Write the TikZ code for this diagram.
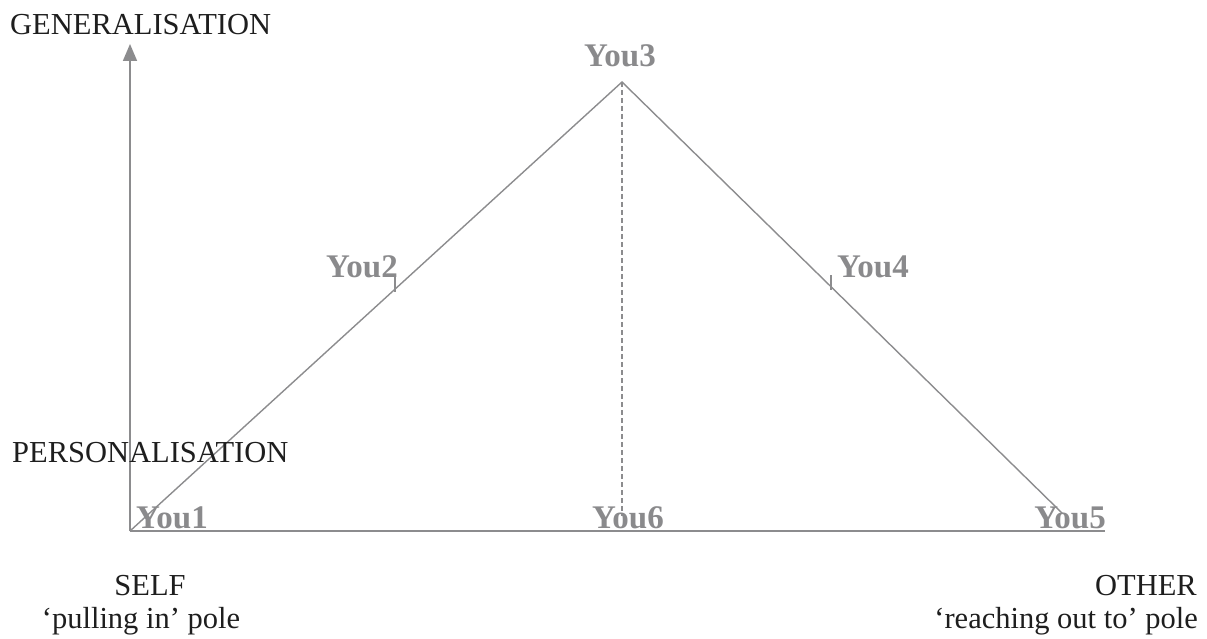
\documentclass[tikz,border=0pt]{standalone}
\usepackage{fontspec}
\setmainfont{Liberation Serif}
\usetikzlibrary{arrows.meta}
\definecolor{linegray}{HTML}{8C8C8E}
\definecolor{labgray}{HTML}{8A8A8C}
\definecolor{txt}{HTML}{1E1E1E}
\tikzset{
  axis/.style={draw=linegray, line width=1.6pt},
  leg/.style={draw=linegray, line width=1.4pt},
  dashline/.style={draw=linegray, line width=1.2pt, dash pattern=on 5pt off 3pt},
  tickmark/.style={draw=linegray, line width=1.2pt},
  youlab/.style={text=labgray, font=\fontsize{33}{36}\selectfont\bfseries, inner sep=0pt, anchor=base},
  polelab/.style={text=txt, font=\fontsize{30.5}{34}\selectfont, inner sep=0pt}
}
\begin{document}
\begin{tikzpicture}[x=1pt,y=-1pt]
\useasboundingbox (0,0) rectangle (1207,639);
% coordinates
\coordinate (O) at (130,531);
\coordinate (Ytop) at (130,44);
\coordinate (Xend) at (1105,531);
\coordinate (A) at (622,82);
\coordinate (R) at (1062,513);
\coordinate (M) at (622,516);
% axes
\draw[axis, -{Triangle[width=14pt,length=17pt]}] (O) -- (Ytop);
\draw[axis] (O) -- (Xend);
% triangle
\draw[leg] (O) -- (A) -- (R);
\draw[dashline] (A) -- (M);
% ticks
\coordinate (t2a) at (395,277); \coordinate (t2b) at (395,292);
\coordinate (t4a) at (831,275); \coordinate (t4b) at (831,290);
\draw[tickmark] (t2a) -- (t2b);
\draw[tickmark] (t4a) -- (t4b);
% you labels
\node[youlab] (y1) at (172,528) {You1};
\node[youlab] (y2) at (362,277) {You2};
\node[youlab] (y3) at (620,67) {You3};
\node[youlab] (y4) at (873,277) {You4};
\node[youlab] (y5) at (1070,528) {You5};
\node[youlab] (y6) at (628,528) {You6};
% axis labels
\node[polelab, anchor=base west] (gen) at (10,35) {GENERALISATION};
\node[polelab, anchor=base west] (pers) at (12,462) {PERSONALISATION};
\node[polelab, anchor=base] (self) at (150,595) {SELF};
\node[polelab, anchor=base] (selfp) at (141,628) {‘pulling in’ pole};
\node[polelab, anchor=base east] (oth) at (1197,595) {OTHER};
\node[polelab, anchor=base east] (othp) at (1198,628) {‘reaching out to’ pole};
\end{tikzpicture}
\end{document}
